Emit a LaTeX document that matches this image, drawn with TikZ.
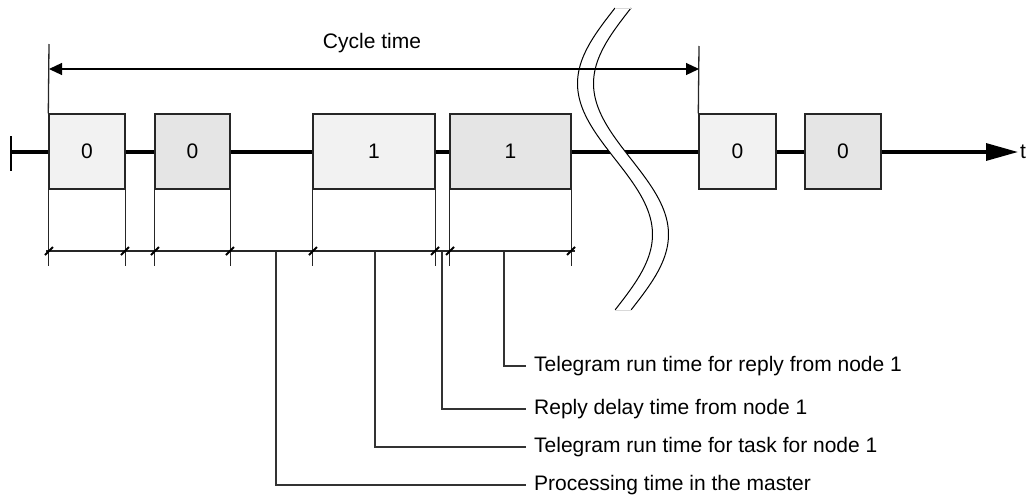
\documentclass[tikz,border=0pt]{standalone}
\usepackage{fontspec}
\setmainfont{Liberation Sans}
\usetikzlibrary{arrows.meta}
\begin{document}
\begin{tikzpicture}[x=1pt,y=-1pt,
  every node/.style={font=\fontsize{21}{25}\selectfont},
  telebox/.style={draw=black!85, line width=1.4pt, minimum height=75pt, inner sep=0pt, anchor=center},
  boxA/.style={telebox, fill=black!5},
  boxB/.style={telebox, fill=black!10},
  extline/.style={draw=black!85, line width=1.3pt},
  dimline/.style={draw=black!85, line width=1.3pt},
  slash/.style={draw=black, line width=2pt},
  leader/.style={draw=black!80, line width=1.3pt},
  lbl/.style={anchor=west, inner sep=4pt},
  breakline/.style={draw=black, line width=1pt}
]
\useasboundingbox (0,0) rectangle (1030,501);

% time axis
\coordinate (t0) at (11,152);
\coordinate (t1) at (1018,152);
\draw[line width=3.2pt, -{Triangle[length=32pt,width=17pt]}] (t0) -- (t1);
\node[anchor=west, inner sep=2pt] (tl) at (t1) {t};
\draw[line width=1.4pt] (11,136) -- (11,171);

% break symbol
\fill[white] plot[domain=0:1, samples=80, variable=\s] ({615-37.5*sin(360*\s)}, {8+302*\s})
  -- plot[domain=1:0, samples=80, variable=\s] ({631-37.5*sin(360*\s)}, {8+302*\s}) -- cycle;
\draw[breakline] plot[domain=0:1, samples=80, variable=\s] ({615-37.5*sin(360*\s)}, {8+302*\s});
\draw[breakline] plot[domain=0:1, samples=80, variable=\s] ({631-37.5*sin(360*\s)}, {8+302*\s});
\draw[black!15, line width=1pt] (615,8) -- (631,8);
\draw[black!15, line width=1pt] (615,310) -- (631,310);

% boxes
\node[boxA, minimum width=76pt] (b1) at (87,151.5) {0};
\node[boxB, minimum width=75pt] (b2) at (192.5,151.5) {0};
\node[boxA, minimum width=122pt] (b3) at (374,151.5) {1};
\node[boxB, minimum width=121pt] (b4) at (510.5,151.5) {1};
\node[boxA, minimum width=77pt] (b5) at (737.5,151.5) {0};
\node[boxB, minimum width=76pt] (b6) at (843,151.5) {0};

% cycle time
\coordinate (cl) at (49,69);
\coordinate (cr) at (699,69);
\draw[extline] (b1.north west) -- (49,44);
\draw[extline] (b5.north west) -- (699,46);
\draw[line width=1.2pt, {Triangle[length=13pt,width=12pt]}-{Triangle[length=13pt,width=12pt]}] (cl) -- (cr);
\node (ct) at (372,43) {Cycle time};

% extension lines
\foreach \b in {b1,b2,b3,b4}{
  \draw[extline] (\b.south west) -- ++(0,76);
  \draw[extline] (\b.south east) -- ++(0,76);
}

% dimension line
\coordinate (d0) at (46,251);
\coordinate (d1) at (575,251);
\draw[dimline] (d0) -- (d1);
\foreach \x in {49,125,155,230,313,435,450,571}{
  \draw[slash] (\x-4,255) -- (\x+4,247);
}

% labels and leaders
\node[lbl] (l1) at (530,366) {Telegram run time for reply from node 1};
\node[lbl] (l2) at (530,409) {Reply delay time from node 1};
\node[lbl] (l3) at (530,447) {Telegram run time for task for node 1};
\node[lbl] (l4) at (530,485) {Processing time in the master};
\coordinate (p1) at (504,252);
\coordinate (p2) at (442,252);
\coordinate (p3) at (375,252);
\coordinate (p4) at (276,252);
\draw[leader] (p1) |- ([xshift=-4pt]l1.west);
\draw[leader] (p2) |- ([xshift=-4pt]l2.west);
\draw[leader] (p3) |- ([xshift=-4pt]l3.west);
\draw[leader] (p4) |- ([xshift=-4pt]l4.west);
\end{tikzpicture}
\end{document}
